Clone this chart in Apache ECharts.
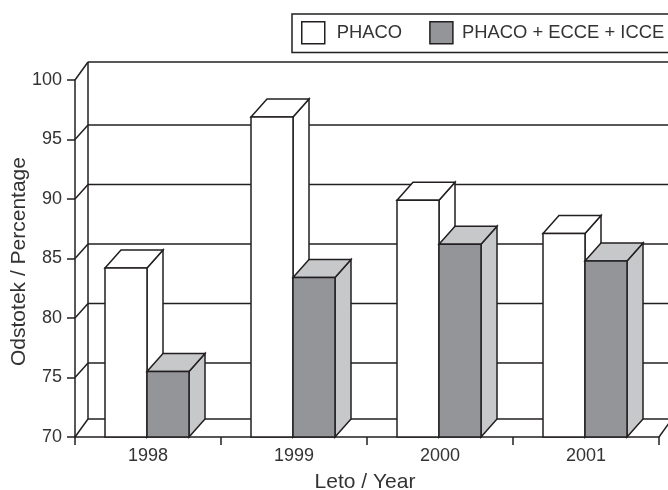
<!DOCTYPE html>
<html>
<head>
<meta charset="utf-8">
<style>
  html, body { margin: 0; padding: 0; background: #fff; }
  #chart { width: 668px; height: 490px; }
</style>
<script src="https://cdn.jsdelivr.net/npm/echarts@6/dist/echarts.min.js"></script>
</head>
<body>
<div id="chart"></div>
<script>
var years = ['1998', '1999', '2000', '2001'];
var phaco = [84.2, 96.9, 89.9, 87.1];
var phacoEcceIcce = [75.5, 83.4, 86.2, 84.8];
var yTicks = [70, 75, 80, 85, 90, 95, 100];

var INK = '#231f20';
var TEXT = '#333333';
var FONT = '"Liberation Sans", Arial, sans-serif';
var LW = 1.5;

// depth of the fake 3d box
var wallDx = 13, wallDy = 18, wallDyMid = 14.5;
var barDx = 16, barDy = 18, barW = 42;

function lineShape(x1, y1, x2, y2) {
  return {
    type: 'line',
    shape: { x1: x1, y1: y1, x2: x2, y2: y2 },
    style: { stroke: INK, lineWidth: LW, fill: null }
  };
}

function poly(points, fill) {
  return {
    type: 'polygon',
    shape: { points: points },
    style: { fill: fill, stroke: INK, lineWidth: LW, lineJoin: 'miter' }
  };
}

// back wall + floor, one row per y tick
function renderWall(params, api) {
  var rect = params.coordSys;
  var v = api.value(1);
  var y = api.coord([0, v])[1];
  var left = rect.x, right = rect.x + rect.width;
  var first = yTicks[0], last = yTicks[yTicks.length - 1];
  // the original has the inner wall lines sitting a bit lower than floor and top
  var dy = (v === first || v === last) ? wallDy : wallDyMid;
  var kids = [
    lineShape(left, y, left + wallDx, y - dy),
    lineShape(left + wallDx, y - dy, right + wallDx, y - dy)
  ];
  if (v === first) {
    var top = api.coord([0, last])[1];
    kids.push(lineShape(left + wallDx, y - wallDy, left + wallDx, top - wallDy));
    kids.push(lineShape(right, y, right + wallDx, y - wallDy));
  }
  return { type: 'group', children: kids };
}

function boxRenderer(shift, front, shade) {
  return function (params, api) {
    var p = api.coord([api.value(0), api.value(1)]);
    var base = api.coord([api.value(0), yTicks[0]]);
    var x0 = p[0] + shift, x1 = x0 + barW;
    var yt = p[1], yb = base[1];
    return {
      type: 'group',
      children: [
        poly([[x1, yt], [x1 + barDx, yt - barDy], [x1 + barDx, yb - barDy], [x1, yb]], shade),
        poly([[x0, yt], [x0 + barDx, yt - barDy], [x1 + barDx, yt - barDy], [x1, yt]], shade),
        poly([[x0, yt], [x1, yt], [x1, yb], [x0, yb]], front)
      ]
    };
  };
}

function rows(values) {
  return values.map(function (v, i) { return [i, v]; });
}

var chart = echarts.init(document.getElementById('chart'), null, { renderer: 'canvas' });

chart.setOption({
  animation: false,
  backgroundColor: '#fff',
  textStyle: { fontFamily: FONT, color: TEXT },
  grid: { left: 75, right: 9, top: 80, bottom: 53, outerBoundsMode: 'none' },
  legend: {
    left: 292,
    top: 14,
    width: 420,
    orient: 'horizontal',
    padding: [7, 12, 8, 9],
    borderColor: INK,
    borderWidth: LW,
    itemWidth: 23,
    itemHeight: 22,
    itemGap: 27,
    textStyle: { fontFamily: FONT, fontSize: 18.4, color: TEXT },
    data: [
      { name: 'PHACO', icon: 'rect', itemStyle: { color: '#ffffff', borderColor: INK, borderWidth: LW },
        textStyle: { fontFamily: FONT, fontSize: 18.4, color: TEXT, padding: [0, 0, 0, 7] } },
      { name: 'PHACO + ECCE + ICCE', icon: 'rect', itemStyle: { color: '#939598', borderColor: INK, borderWidth: LW },
        textStyle: { fontFamily: FONT, fontSize: 18.4, color: TEXT, padding: [0, 0, 0, 4] } }
    ]
  },
  xAxis: {
    type: 'category',
    data: years,
    name: 'Leto / Year',
    nameLocation: 'middle',
    nameGap: 35,
    nameTextStyle: { fontFamily: FONT, fontSize: 21, color: TEXT, padding: [0, 4, 0, 0] },
    axisLine: { lineStyle: { color: INK, width: LW } },
    axisTick: { show: true, length: 8, lineStyle: { color: INK, width: LW } },
    axisLabel: { fontFamily: FONT, fontSize: 18, color: TEXT, margin: 10, interval: 0 }
  },
  yAxis: {
    type: 'value',
    min: 70,
    max: 100,
    interval: 5,
    name: 'Odstotek / Percentage',
    nameLocation: 'middle',
    nameGap: 45,
    nameMoveOverlap: false,
    nameTextStyle: { fontFamily: FONT, fontSize: 21, color: TEXT, padding: [0, 6, 0, 0] },
    splitLine: { show: false },
    axisLine: { show: true, lineStyle: { color: INK, width: LW } },
    axisTick: { show: true, length: 8, lineStyle: { color: INK, width: LW } },
    axisLabel: { fontFamily: FONT, fontSize: 18, color: TEXT, margin: 13 }
  },
  series: [
    {
      name: 'wall',
      type: 'custom',
      silent: true,
      clip: false,
      z: 1,
      renderItem: renderWall,
      data: rows(yTicks).map(function (r) { return [0, r[1]]; })
    },
    {
      name: 'PHACO',
      type: 'custom',
      clip: false,
      z: 2,
      itemStyle: { color: '#ffffff', borderColor: INK, borderWidth: LW },
      renderItem: boxRenderer(-43, '#ffffff', '#ffffff'),
      data: rows(phaco)
    },
    {
      name: 'PHACO + ECCE + ICCE',
      type: 'custom',
      clip: false,
      z: 3,
      itemStyle: { color: '#939598', borderColor: INK, borderWidth: LW },
      renderItem: boxRenderer(-1, '#939598', '#c7c8ca'),
      data: rows(phacoEcceIcce)
    }
  ]
});
</script>
</body>
</html>
